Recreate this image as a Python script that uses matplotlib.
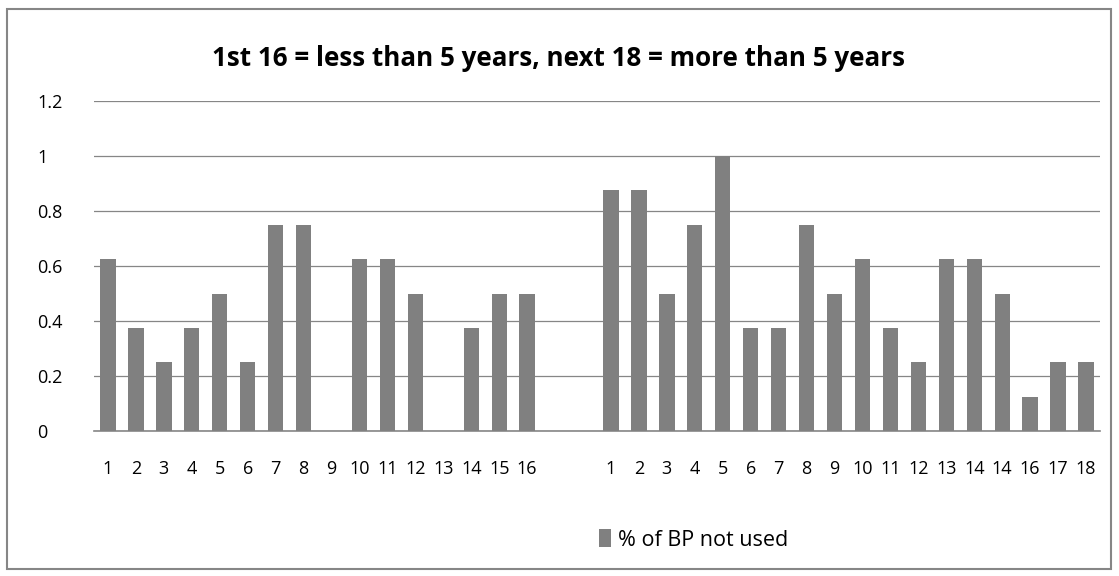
import matplotlib
matplotlib.use("Agg")
import matplotlib.pyplot as plt
from matplotlib.patches import Rectangle

plt.rcParams['font.family'] = ['Open Sans', 'DejaVu Sans']

group1_labels = [str(i) for i in range(1, 17)]
group1_values = [0.625, 0.375, 0.25, 0.375, 0.5, 0.25, 0.75, 0.75, 0.0,
                 0.625, 0.625, 0.5, 0.0, 0.375, 0.5, 0.5]
gap_labels = ["", ""]
gap_values = [0.0, 0.0]
group2_labels = ["1", "2", "3", "4", "5", "6", "7", "8", "9", "10", "11", "12",
                 "13", "14", "14", "16", "17", "18"]
group2_values = [0.875, 0.875, 0.5, 0.75, 1.0, 0.375, 0.375, 0.75, 0.5, 0.625,
                 0.375, 0.25, 0.625, 0.625, 0.5, 0.125, 0.25, 0.25]

labels = group1_labels + gap_labels + group2_labels
values = group1_values + gap_values + group2_values
title = "1st 16 = less than 5 years, next 18 = more than 5 years"
series_name = "% of BP not used"
yticks = [0, 0.2, 0.4, 0.6, 0.8, 1, 1.2]
ytick_labels = ["0", "0.2", "0.4", "0.6", "0.8", "1", "1.2"]

W, H = 1119, 576
fig = plt.figure(figsize=(W / 100, H / 100), dpi=100)
ax = fig.add_axes([94 / W, 1 - 431 / H, (1100 - 94) / W, (431 - 101) / H])

x = list(range(len(values)))
bar_color = "#808080"
ax.bar(x, values, width=0.55, color=bar_color, zorder=3, label=series_name)
ax.set_xlim(-0.5, len(values) - 0.5)
ax.set_ylim(0, 1.2)
ax.set_yticks(yticks)
ax.set_yticklabels(ytick_labels)
ax.set_xticks(x)
ax.set_xticklabels(labels)
ax.grid(axis='y', color="#868686", linewidth=0.9, zorder=0)
for s in ['top', 'right', 'left']:
    ax.spines[s].set_visible(False)
ax.spines['bottom'].set_color("#868686")
ax.spines['bottom'].set_linewidth(1.2)
ax.tick_params(axis='both', length=0, labelsize=13, colors="#000000")
ax.tick_params(axis='x', pad=21)
ax.tick_params(axis='y', pad=41)
for lab in ax.get_yticklabels():
    lab.set_ha('left')

fig.text(559 / W, 1 - 58 / H, title, ha='center', va='center',
         fontsize=18.7, fontweight='bold')

leg = fig.legend(loc='center right', bbox_to_anchor=(788 / W, 1 - 540 / H), frameon=False,
                 fontsize=15.5, handlelength=0.55, handleheight=0.9, handletextpad=0.3,
                 borderaxespad=0, borderpad=0)

fig.add_artist(Rectangle((7 / W, 1 - 569 / H), (1111 - 7) / W, (569 - 9) / H,
                         transform=fig.transFigure, fill=False,
                         edgecolor="#868686", linewidth=1.5))

fig.savefig("out.png", dpi=100)
